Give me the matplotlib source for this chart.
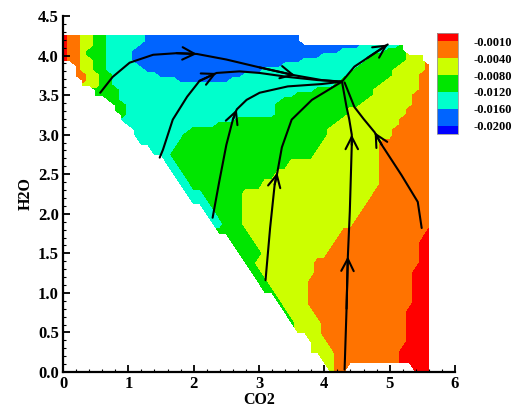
import numpy as np
import matplotlib
matplotlib.use("Agg")
import matplotlib.pyplot as plt
from matplotlib.ticker import MultipleLocator, FormatStrFormatter

plt.rcParams['font.family'] = ['Liberation Serif', 'DejaVu Serif']
plt.rcParams['font.weight'] = 'bold'

# contour levels and colours (low -> high, with under/over ends)
levels = [-0.0200, -0.0160, -0.0120, -0.0080, -0.0040, -0.0010]
colors = ['#0000ff', '#0064ff', '#00ffcc', '#00e600', '#ccff00', '#ff7300', '#ff0000']

# band read off the picture along each grid row: "<band><x where it starts>"
# B/C/G/Y/O/R = colour band, '.' = outside the domain
band_value = {'B': -0.018, 'C': -0.014, 'G': -0.010, 'Y': -0.006, 'O': -0.002, 'R': 0.0}
x_nodes = np.round(np.arange(57) * 0.1, 2)
band_rows = [
    (4.25,   "R0 O.08 Y.22 G.44 C.62 B1.3 .3.62"),
    (4.1875, "R0 O.08 Y.22 G.43 C.61 B1.22 .3.62"),
    (4.125,  "R0 O.08 Y.23 G.42 C.62 B1.15 C4.57 G5.15 .5.22"),
    (4.0625, "R0 O.08 Y.23 G.4 C.61 B1.07 C4.26 G4.98 .5.22"),
    (4.0,    "R0 O.08 Y.23 G.38 C.62 B1.06 C4.0 G4.8 Y5.22 .5.55"),
    (3.9375, "R0 O.08 Y.24 G.42 C.63 B1.08 C3.69 G4.68 Y5.22 .5.56"),
    (3.875,  ".0 O.13 Y.28 G.46 C.66 B1.14 C3.38 G4.56 Y5.17 O5.53"),
    (3.8125, ".0 O.15 Y.3 G.5 C.68 B1.23 C3.06 G4.44 Y5.09 O5.51"),
    (3.75,   ".0 O.18 Y.35 G.55 C.71 B1.43 C2.79 G4.35 Y5.02 O5.49"),
    (3.6875, ".0 O.23 Y.36 G.56 C.74 B1.76 C2.53 G4.26 Y4.95 O5.46"),
    (3.625,  ".0 Y.3 G.52 C.79 G4.16 Y4.88 O5.44"),
    (3.5625, ".0 G.41 C.83 G3.9 Y4.8 O5.41"),
    (3.5,    ".0 G.5 C.86 G3.55 Y4.73 O5.39"),
    (3.4375, ".0 G.62 C.89 G3.32 Y4.66 O5.35"),
    (3.375,  ".0 G.74 C.94 G3.23 Y4.53 O5.31"),
    (3.3125, ".0 G.79 C.96 G3.22 Y4.38 O5.27"),
    (3.25,   ".0 G.85 C.98 G3.22 Y4.34 O5.22"),
    (3.1875, ".0 C.89 G2.7 Y4.3 O5.18"),
    (3.125,  ".0 C.95 G2.32 Y4.2 O5.13"),
    (3.0625, ".0 C1.02 G2.0 Y4.06 O5.09"),
    (3.0,    ".0 C1.09 G1.87 Y4.03 O5.04"),
    (2.875,  ".0 C1.2 G1.71 Y4.0 O4.9"),
    (2.75,   ".0 C1.34 G1.62 Y3.85 O4.9"),
    (2.625,  ".0 C1.53 G1.78 Y3.48 O4.9"),
    (2.5,    ".0 C1.65 G1.9 Y3.25 O4.88"),
    (2.375,  ".0 C1.76 G2.0 Y3.02 O4.85"),
    (2.25,   ".0 C1.87 G2.12 Y2.79 O4.76"),
    (2.125,  ".0 C1.98 G2.22 Y2.71 O4.67"),
    (2.0,    ".0 C2.12 G2.34 Y2.71 O4.55"),
    (1.875,  ".0 C2.25 G2.44 Y2.77 O4.43"),
    (1.75,   ".0 G2.4 Y2.82 O4.3 R5.56"),
    (1.625,  ".0 G2.53 Y2.95 O4.17 R5.5"),
    (1.5,    ".0 G2.64 Y3.02 O4.02 R5.47"),
    (1.375,  ".0 G2.78 Y3.0 O3.9 R5.44"),
    (1.25,   ".0 G2.9 Y3.08 O3.82 R5.4"),
    (1.125,  ".0 G2.99 Y3.18 O3.78 R5.38"),
    (1.0,    ".0 G3.09 Y3.28 O3.78 R5.35"),
    (0.875,  ".0 G3.22 Y3.4 O3.8 R5.32"),
    (0.75,   ".0 G3.32 Y3.5 O3.86 R5.3"),
    (0.625,  ".0 G3.43 Y3.6 O3.92 R5.27"),
    (0.5,    ".0 Y3.59 O3.98 R5.25"),
    (0.375,  ".0 Y3.72 O4.05 R5.21"),
    (0.25,   ".0 Y3.78 O4.12 R5.18"),
    (0.125,  ".0 Y3.96 O4.17 R5.2"),
    (0.0,    ".0 Y4.06 O4.19 .4.35 R5.35"),
]

# streamlines (CO2, H2O) and the index of the points carrying an arrow head
streamlines = [
    ([0.57, 0.76, 1.02, 1.38, 1.74, 2.05, 2.5, 3.01, 3.55, 3.96, 4.27],
     [3.53, 3.73, 3.91, 4.01, 4.03, 4.02, 3.95, 3.85, 3.75, 3.69, 3.67], [5, 8]),
    ([1.48, 1.53, 1.68, 1.9, 2.09, 2.35, 2.7, 3.01, 3.44, 3.9, 4.27],
     [2.71, 2.81, 3.19, 3.48, 3.68, 3.78, 3.8, 3.78, 3.73, 3.69, 3.67], [5]),
    ([2.29, 2.39, 2.5, 2.6, 2.66, 2.81, 3.01, 3.44, 3.96, 4.27],
     [1.95, 2.4, 2.87, 3.19, 3.32, 3.44, 3.53, 3.61, 3.64, 3.67], [4]),
    ([3.1, 3.12, 3.17, 3.24, 3.28, 3.35, 3.5, 3.81, 4.11, 4.27],
     [1.16, 1.35, 1.82, 2.37, 2.52, 2.84, 3.19, 3.44, 3.59, 3.67], [4]),
    ([4.31, 4.34, 4.36, 4.39, 4.42, 4.42, 4.38, 4.34, 4.27],
     [0.03, 0.8, 1.46, 2.03, 2.87, 3.0, 3.2, 3.35, 3.67], [2, 5]),
    ([5.49, 5.43, 5.18, 4.88, 4.77, 4.6, 4.46, 4.31],
     [1.82, 2.15, 2.49, 2.87, 3.03, 3.2, 3.35, 3.66], [4]),
    ([4.27, 4.46, 4.66, 4.97],
     [3.67, 3.86, 3.97, 4.14], [3]),
]


def row_values(spec):
    starts, bands = [], []
    for tok in spec.split():
        bands.append(tok[0])
        starts.append(float(tok[1:]))
    vals = []
    for x in x_nodes:
        b = '.'
        for s, band in zip(starts, bands):
            if x >= s - 1e-9:
                b = band
        vals.append(band_value.get(b, np.nan))
    return vals


y_nodes = np.array([r[0] for r in band_rows])
Z = np.ma.masked_invalid(np.array([row_values(r[1]) for r in band_rows]))
X, Y = np.meshgrid(x_nodes, y_nodes)

fig = plt.figure(figsize=(5.25, 4.11), dpi=100)
ax = fig.add_axes([63 / 525, 39 / 411, 392 / 525, 356 / 411])

cf = ax.contourf(X, Y, Z, levels=levels, colors=colors, extend='both')

for xs, ys, arrows in streamlines:
    ax.plot(xs, ys, color='black', lw=1.5, solid_capstyle='round')
    for i in arrows:
        ax.annotate('', xy=(xs[i], ys[i]), xytext=(xs[i - 1], ys[i - 1]),
                    arrowprops=dict(arrowstyle='->, head_length=0.55, head_width=0.28',
                                    lw=1.5, color='black', mutation_scale=16,
                                    shrinkA=0, shrinkB=0))

ax.set_xlim(0, 6)
ax.set_ylim(0, 4.5)
ax.spines['top'].set_visible(False)
ax.spines['right'].set_visible(False)
ax.spines['left'].set_linewidth(1.6)
ax.spines['bottom'].set_linewidth(1.6)
ax.xaxis.set_major_locator(MultipleLocator(1))
ax.xaxis.set_minor_locator(MultipleLocator(0.2))
ax.yaxis.set_major_locator(MultipleLocator(0.5))
ax.yaxis.set_minor_locator(MultipleLocator(0.1))
ax.yaxis.set_major_formatter(FormatStrFormatter('%.1f'))
ax.tick_params(which='major', direction='in', length=5, width=1.3, labelsize=12, pad=3)
ax.tick_params(which='minor', direction='in', length=2.5, width=0.8)
for lab in ax.get_xticklabels() + ax.get_yticklabels():
    lab.set_fontweight('bold')
ax.set_xlabel('CO2', fontsize=11.5, fontweight='bold', labelpad=0)
ax.set_ylabel('H2O', fontsize=11.5, fontweight='bold', labelpad=3)

cax = fig.add_axes([437 / 525, 277 / 411, 21 / 525, 101 / 411])
cb = fig.colorbar(cf, cax=cax, extendrect=True, extendfrac=0.1, ticks=levels)
cb.ax.set_yticklabels(['%.4f' % v for v in levels])
cb.ax.tick_params(length=0, pad=11, labelsize=9)
for lab in cb.ax.get_yticklabels():
    lab.set_fontweight('bold')
cb.outline.set_linewidth(0.6)
cb.outline.set_edgecolor('#999999')

fig.savefig('out.png', dpi=100)
